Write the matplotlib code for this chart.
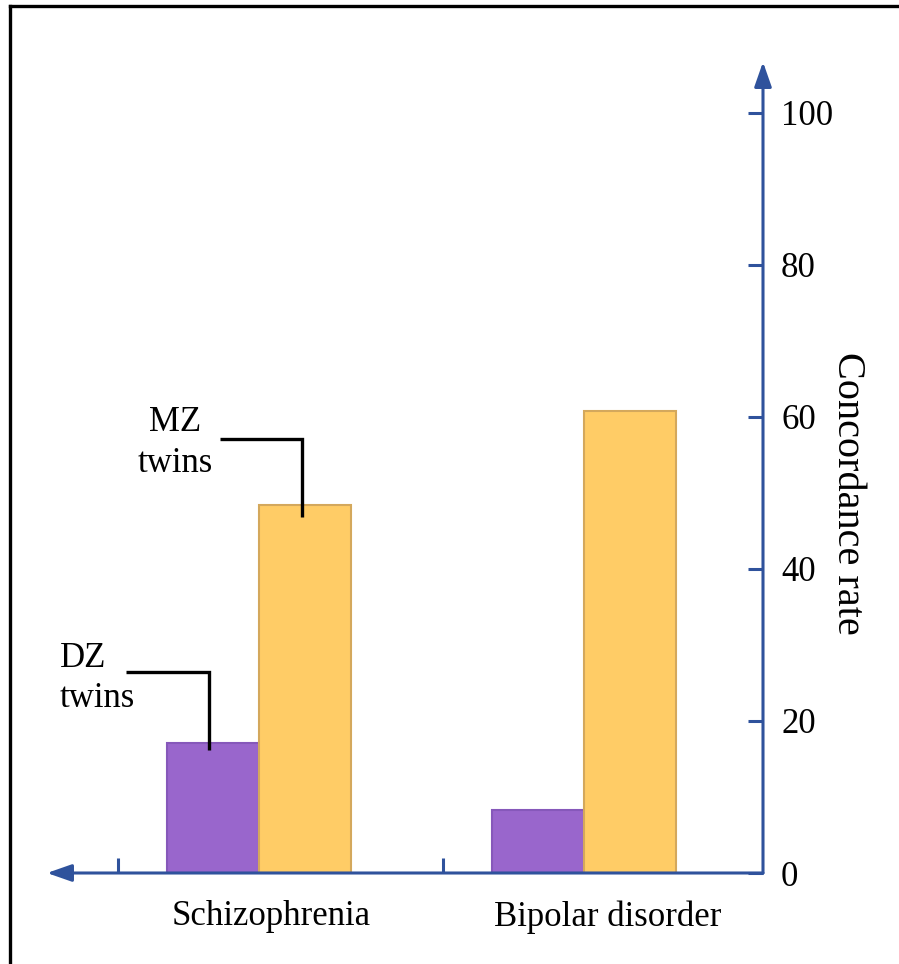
import matplotlib
matplotlib.use('Agg')
import matplotlib.pyplot as plt
from matplotlib.lines import Line2D
import numpy as np

# data
categories = ['Schizophrenia', 'Bipolar disorder']
dz_twins = [17.1, 8.3]
mz_twins = [48.4, 60.8]
yticks = [0, 20, 40, 60, 80, 100]

plt.rcParams['font.family'] = ['Liberation Serif', 'DejaVu Serif']

axis_col = '#2F529C'
purple = '#9966CC'
purple_edge = '#8658BA'
yellow = '#FFCC66'
yellow_edge = '#D4A85C'

fig = plt.figure(figsize=(8.99, 9.64), dpi=100)
W, H = 899, 964
ax = fig.add_axes([47 / W, 1 - 873 / H, (763 - 47) / W, (873 - 62) / H])

x = np.arange(len(categories))
bw = 0.283
ax.bar(x - bw / 2, dz_twins, bw, color=purple, edgecolor=purple_edge, linewidth=1.5, zorder=2)
ax.bar(x + bw / 2, mz_twins, bw, color=yellow, edgecolor=yellow_edge, linewidth=1.5, zorder=2)

ax.set_xlim(-0.652, 1.551)
ax.set_ylim(0, 106.7)

for s in ax.spines.values():
    s.set_visible(False)

# axis lines with arrows
ax.annotate('', xy=(1, 1), xytext=(1, 0), xycoords='axes fraction',
            arrowprops=dict(arrowstyle='-|>,head_length=1.0,head_width=0.35', color=axis_col,
                            lw=2.2, shrinkA=0, shrinkB=0, mutation_scale=15), zorder=5)
ax.annotate('', xy=(0, 0), xytext=(1, 0), xycoords='axes fraction',
            arrowprops=dict(arrowstyle='-|>,head_length=1.0,head_width=0.35', color=axis_col,
                            lw=2.2, shrinkA=0, shrinkB=0, mutation_scale=15), zorder=5)

# ticks
ax.yaxis.tick_right()
ax.set_yticks(yticks)
ax.tick_params(axis='y', direction='in', length=11, width=2.2, color=axis_col,
               labelsize=25, pad=13)
ax.set_xticks(x - 0.435)
ax.set_xticklabels([])
ax.tick_params(axis='x', direction='in', length=11, width=2.2, color=axis_col)

# category labels
label_x = [0.037, 1.074]
for lx, c in zip(label_x, categories):
    ax.text(lx, -0.054, c, transform=ax.get_xaxis_transform(), ha='center', va='center',
            fontsize=25)

fig.text(848 / W, 1 - 493 / H, 'Concordance rate', rotation=270, ha='center', va='center',
         fontsize=29)

# leader labels
mz_x = x[0] + bw / 2 - 0.008
dz_x = x[0] - bw / 2 - 0.012
ax.plot([-0.12, mz_x, mz_x], [57.1, 57.1, 46.8], color='black', lw=2.4, zorder=4,
        solid_capstyle='butt', solid_joinstyle='miter')
ax.plot([-0.409, dz_x, dz_x], [26.4, 26.4, 16.2], color='black', lw=2.4, zorder=4,
        solid_capstyle='butt', solid_joinstyle='miter')
ax.text(-0.258, 52.8, 'MZ\ntwins', ha='center', va='baseline', multialignment='center',
        fontsize=25, linespacing=1.32)
ax.text(-0.612, 21.8, 'DZ\ntwins', ha='left', va='baseline', multialignment='left',
        fontsize=25, linespacing=1.3)

# outer frame (top and left only are visible)
fig.add_artist(Line2D([10 / W, 10 / W], [0, 1 - 5.5 / H], color='black', lw=2.4,
                      transform=fig.transFigure, solid_capstyle='projecting'))
fig.add_artist(Line2D([10 / W, 1], [1 - 5.5 / H, 1 - 5.5 / H], color='black', lw=2.4,
                      transform=fig.transFigure, solid_capstyle='projecting'))

fig.savefig('out.png', dpi=100)
